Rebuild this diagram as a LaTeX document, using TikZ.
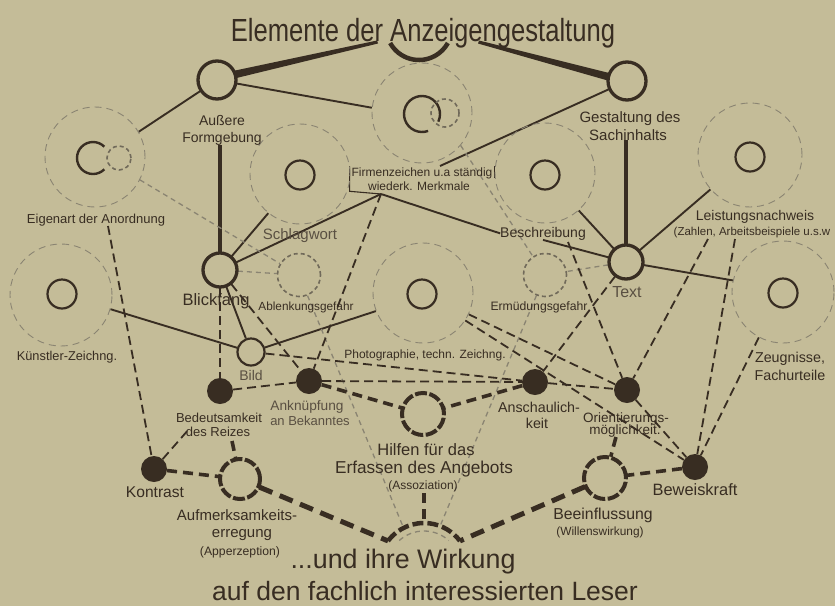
\documentclass[tikz,border=0pt]{standalone}
\usepackage{fontspec}
\setmainfont{Liberation Sans}
\newfontfamily\titlefont{Liberation Sans}[FakeStretch=0.8]
\usetikzlibrary{calc}
\pgfdeclarelayer{bglayer}
\pgfdeclarelayer{linelayer}
\pgfsetlayers{bglayer,linelayer,main}
\definecolor{bgc}{RGB}{196,188,152}
\definecolor{ink}{RGB}{56,45,34}
\definecolor{faint}{RGB}{138,132,114}
\definecolor{midc}{RGB}{90,80,66}
\newcommand\fsz[1]{\fontsize{#1}{#1}\selectfont}
\begin{document}
\begin{tikzpicture}[x=1pt,y=-1pt,
  lbl/.style={inner sep=0pt, outer sep=0pt, text=ink, anchor=base},
  glbl/.style={lbl, text=midc},
  bigc/.style={circle, draw=faint, line width=0.9pt, dash pattern=on 7pt off 5pt, minimum size=100pt, inner sep=0pt},
  innerc/.style={circle, draw=ink, line width=2.2pt, minimum size=29pt, inner sep=0pt},
  ringc/.style={circle, draw=ink, line width=3.3pt, minimum size=#1, inner sep=0pt, outer sep=1pt},
  smalld/.style={circle, draw=faint!70!ink, line width=1.6pt, dash pattern=on 4pt off 3pt, minimum size=#1, inner sep=0pt},
  dotc/.style={circle, fill=ink, minimum size=26pt, inner sep=0pt},
  dring/.style={circle, draw=ink, line width=4pt, dash pattern=on 12pt off 2.5pt, minimum size=40pt, inner sep=0pt, outer sep=1pt},
  solidln/.style={draw=ink, line width=1.9pt},
  thinln/.style={draw=ink, line width=1.1pt},
  thickln/.style={draw=ink, line width=4.2pt},
  dashln/.style={draw=ink, line width=1.8pt, dash pattern=on 9pt off 5pt},
  heavydash/.style={draw=ink, line width=3.6pt, dash pattern=on 10pt off 6pt},
  heavierdash/.style={draw=ink, line width=5pt, dash pattern=on 14pt off 8pt},
  greydash/.style={draw=faint, line width=1.3pt, dash pattern=on 5pt off 4pt}
]
\begin{pgfonlayer}{bglayer}
\fill[bgc] (0,0) rectangle (835,606);
\end{pgfonlayer}
\useasboundingbox (0,0) rectangle (835,606);

% ---------- big dashed circles ----------
\node[bigc] (bEig) at (95,157) {};
\node[bigc] (bFirm) at (422,113) {};
\node[bigc] (bSchl) at (300,174) {};
\node[bigc] (bBesch) at (545,173) {};
\node[bigc, minimum size=104pt] (bLeist) at (750,155) {};
\node[bigc, minimum size=102pt] (bKuen) at (61,295) {};
\node[bigc] (bPhoto) at (423,293) {};
\node[bigc, minimum size=102pt] (bZeug) at (783,292) {};

% ---------- inner symbols ----------
\node[innerc] (iSchl) at (300,175) {};
\node[innerc] (iBesch) at (545,175) {};
\node[innerc] (iLeist) at (750,157) {};
\node[innerc] (iKuen) at (62,294) {};
\node[innerc] (iPhoto) at (422,294) {};
\node[innerc] (iZeug) at (783,293) {};
\coordinate (iEig) at (93,158);
\draw[ink, line width=2.4pt] ($(iEig)+(45:16pt)$) arc[start angle=45, end angle=315, radius=16pt];
\node[smalld=24pt] (iEigD) at (119,158) {};
\coordinate (iFirm) at (422,114);
\draw[ink, line width=2.4pt] ($(iFirm)+(-25:18pt)$) arc[start angle=-25, end angle=290, radius=18pt];
\node[smalld=28pt] (iFirmD) at (445,113) {};

% ---------- small dashed circles ----------
\node[smalld=43pt] (ablenk) at (299,275) {};
\node[smalld=43pt] (ermued) at (545,275) {};

% ---------- hollow rings ----------
\node[ringc=38pt] (aeuss) at (217,80) {};
\node[ringc=38pt] (gest) at (627,81) {};
\node[ringc=34pt] (blick) at (220,270) {};
\node[ringc=34pt] (textc) at (626,262) {};
\node[circle, draw=ink, line width=2.2pt, minimum size=27pt, inner sep=0pt] (bild) at (251,352) {};

% ---------- black dots ----------
\node[dotc] (bedeut) at (220,391) {};
\node[dotc] (ankn) at (309,381) {};
\node[dotc] (ansch) at (535,382) {};
\node[dotc] (orient) at (627,390) {};
\node[dotc] (kontr) at (154,469) {};
\node[dotc] (beweis) at (695,467) {};

% ---------- dashed rings ----------
\node[dring] (aufm) at (240,479) {};
\node[dring, minimum size=42pt] (hilfen) at (423,414) {};
\node[dring, minimum size=42pt] (beeinf) at (605,478) {};

% ---------- labels ----------
\node[lbl, font=\titlefont\fsz{32}] (title) at (423,41) {Elemente der Anzeigengestaltung};
\node[lbl, font=\fsz{14}] (lAeuss1) at (222,125) {Außere};
\node[lbl, font=\fsz{14}] (lAeuss2) at (222,142) {Formgebung};
\node[lbl, font=\fsz{15}] (lGest1) at (630,122) {Gestaltung des};
\node[lbl, font=\fsz{15}] (lGest2) at (628,140) {Sachinhalts};
\node[lbl, font=\fsz{13}] (lEig) at (96,223) {Eigenart der Anordnung};
\node[lbl, font=\fsz{12}] (lFirm1) at (422,176) {Firmenzeichen u.a ständig};
\node[lbl, font=\fsz{12}] (lFirm2) at (419,190) {wiederk. Merkmale};
\node[glbl, font=\fsz{15}] (lSchl) at (300,239) {Schlagwort};
\node[lbl, font=\fsz{14}] (lBesch) at (543,237) {Beschreibung};
\node[lbl, font=\fsz{14}] (lLeist1) at (755,220) {Leistungsnachweis};
\node[lbl, font=\fsz{11.5}] (lLeist2) at (752,235) {(Zahlen, Arbeitsbeispiele u.s.w};
\node[lbl, font=\fsz{16.5}] (lBlick) at (216,305) {Blickfang};
\node[lbl, font=\fsz{11.8}] (lAbl) at (306,310) {Ablenkungsgefahr};
\node[lbl, font=\fsz{12.2}] (lErm) at (539,310) {Ermüdungsgefahr};
\node[glbl, font=\fsz{16}] (lText) at (627,297) {Text};
\node[lbl, font=\fsz{12.8}] (lKuen) at (67,360) {Künstler-Zeichng.};
\node[lbl, font=\fsz{12}] (lPhoto) at (425,358) {Photographie, techn. Zeichng.};
\node[lbl, font=\fsz{14.3}] (lZeug1) at (790,362) {Zeugnisse,};
\node[lbl, font=\fsz{14.3}] (lZeug2) at (790,380) {Fachurteile};
\node[glbl, font=\fsz{14}] (lBild) at (251,380) {Bild};
\node[lbl, font=\fsz{13}] (lBed1) at (219,422) {Bedeutsamkeit};
\node[lbl, font=\fsz{13}] (lBed2) at (218,436) {des Reizes};
\node[glbl, font=\fsz{13.7}] (lAnkn1) at (307,410) {Anknüpfung};
\node[glbl, font=\fsz{13}] (lAnkn2) at (310,425) {an Bekanntes};
\node[lbl, font=\fsz{14.3}] (lAnsch1) at (539,412) {Anschaulich-};
\node[lbl, font=\fsz{14.3}] (lAnsch2) at (537,428) {keit};
\node[lbl, font=\fsz{13.5}] (lOrient1) at (626,422) {Orientierungs-};
\node[lbl, font=\fsz{13.5}] (lOrient2) at (625,434) {möglichkeit.};
\node[lbl, font=\fsz{15.6}] (lKontr) at (155,497) {Kontrast};
\node[lbl, font=\fsz{16.4}] (lBew) at (695,495) {Beweiskraft};
\node[lbl, font=\fsz{15}] (lAufm1) at (237,520) {Aufmerksamkeits-};
\node[lbl, font=\fsz{15}] (lAufm2) at (242,537) {erregung};
\node[lbl, font=\fsz{12.2}] (lAufm3) at (240,555) {(Apperzeption)};
\node[lbl, font=\fsz{16.5}] (lHilf1) at (426,455) {Hilfen für das};
\node[lbl, font=\fsz{17.2}] (lHilf2) at (424,473) {Erfassen des Angebots};
\node[lbl, font=\fsz{12}] (lHilf3) at (423,489) {(Assoziation)};
\node[lbl, font=\fsz{15.8}] (lBeeinf1) at (603,519) {Beeinflussung};
\node[lbl, font=\fsz{11.9}] (lBeeinf2) at (600,535) {(Willenswirkung)};
\node[lbl, font=\fsz{26.8}] (lWirk1) at (403,568) {...und ihre Wirkung};
\node[lbl, font=\fsz{26.5}] (lWirk2) at (425,600) {auf den fachlich interessierten Leser};

% ---------- named points ----------
\coordinate (tarc) at (419,27);
\coordinate (cTL) at (377,42);
\coordinate (cTR) at (479,42);
\coordinate (cFirmA) at (381,194);
\coordinate (cGestEnd) at (440,166);
\coordinate (cEigS) at (108,226);
\coordinate (cBeschD) at (568,242);
\coordinate (cLeist1) at (708,239);
\coordinate (cLeist2) at (735,239);
\coordinate (cBedL) at (189,429);
\coordinate (cBedS) at (232,441);
\coordinate (cOriS) at (616,437);
\coordinate (cAssS) at (424,493);
\coordinate (wc) at (424,568);
\coordinate (wl) at ($(wc)+(143:45pt)$);
\coordinate (wr) at ($(wc)+(37:45pt)$);
\coordinate (wt) at ($(wc)+(90:45pt)$);
\coordinate (wgl) at ($(wc)+(117:45pt)$);
\coordinate (wgr) at ($(wc)+(69:45pt)$);

\begin{pgfonlayer}{linelayer}
% ---------- title connectors ----------
\draw[ink, line width=4.5pt] ($(tarc)+(209:33pt)$) arc[start angle=209, end angle=331, radius=33pt];
\fill[ink] (aeuss.28) -- ($(cTL)+(0,-1.5)$) -- ($(cTL)+(1,1.5)$) -- (aeuss.6) -- cycle;
\fill[ink] (gest.178) -- ($(cTR)+(-1,1.5)$) -- ($(cTR)+(0,-1.5)$) -- (gest.156) -- cycle;
\draw[thickln] (blick |- lAeuss2.south) -- (blick);
\draw[thickln] (textc |- lGest2.south) -- (textc);

% ---------- solid connectors ----------
\draw[solidln] (aeuss) -- (bEig.30);
\draw[solidln] (aeuss) -- (bFirm.174);
\draw[solidln] (gest) -- (cGestEnd);
\draw[solidln] (blick) -- (bSchl.231);
\draw[solidln] (blick) -- (cFirmA);
\draw[solidln] (cFirmA) -- (lBesch.west);
\draw[solidln] (textc) -- (lBesch.south);
\draw[solidln] (textc) -- (bBesch.312);
\draw[solidln] (textc) -- (bLeist.221);
\draw[solidln] (textc) -- (bZeug.167);
\draw[solidln] (bild) -- (bKuen.344);
\draw[solidln] (bild) -- (bPhoto.201);
\draw[solidln] (blick) -- (bild);
\draw[thinln] ($(lFirm1.north west)+(-2,-1)$) -- ($(lFirm1.north west)+(-2,24)$) -- (cFirmA);
\draw[thinln] ($(lFirm1.north east)+(2,-1)$) -- ($(lFirm1.north east)+(2,11)$);

% ---------- light grey dashed ----------
\draw[greydash] (bEig.333) -- (ablenk);
\draw[greydash] (blick) -- (ablenk);
\draw[greydash] (ablenk) -- (wgl);
\draw[greydash] (bFirm.320) -- (ermued);
\draw[greydash] (textc) -- (ermued);
\draw[greydash] (ermued) -- (wgr);
\draw[faint, line width=1.3pt, dash pattern=on 5pt off 4pt] ($(wc)+(132:37pt)$) arc[start angle=132, end angle=48, radius=37pt];

% ---------- dark dashed ----------
\draw[dashln] (cEigS) -- (kontr);
\draw[dashln] (blick) -- (bedeut);
\draw[dashln] (blick) -- (ankn);
\draw[dashln] (cFirmA) -- (ankn);
\draw[dashln] (bedeut) -- (ankn);
\draw[dashln] (bild) -- (ansch);
\draw[dashln] (ankn) -- (ansch);
\draw[dashln] (ansch) -- (orient);
\draw[dashln] (bPhoto.335) -- (orient);
\draw[dashln] (bPhoto.327) -- (beweis);
\draw[dashln] (textc) -- (ansch);
\draw[dashln] (cBeschD) -- (orient);
\draw[dashln] (cLeist1) -- (orient);
\draw[dashln] (cLeist2) -- (beweis);
\draw[dashln] (bZeug.242) -- (beweis);
\draw[dashln] (orient) -- (beweis);
\draw[dashln] (kontr) -- (cBedL);

% ---------- heavy dashed ----------
\draw[heavydash] (kontr) -- (aufm);
\draw[heavydash] (cBedS) -- (aufm);
\draw[heavydash] (ankn) -- (hilfen);
\draw[heavydash] (ansch) -- (hilfen);
\draw[heavydash] (cOriS) -- (beeinf);
\draw[heavydash] (beweis) -- (beeinf);
\draw[heavydash] (cAssS) -- (wt);
\draw[heavierdash] (aufm) -- (wl);
\draw[heavierdash] (beeinf) -- (wr);
\draw[ink, line width=4.5pt, dash pattern=on 11pt off 4pt] (wl) arc[start angle=143, end angle=37, radius=45pt];
\end{pgfonlayer}
\end{tikzpicture}
\end{document}
